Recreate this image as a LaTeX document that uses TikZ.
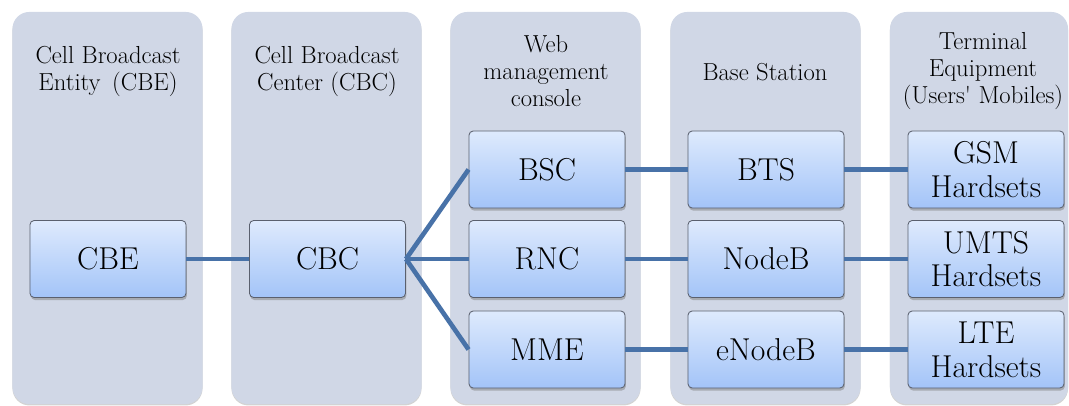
\documentclass[tikz,border=0pt]{standalone}
\usepackage{fontspec}
\usetikzlibrary{shadows}

\definecolor{panelfill}{RGB}{208,215,230}
\definecolor{boxtop}{RGB}{222,234,253}
\definecolor{boxbot}{RGB}{163,196,248}
\definecolor{boxline}{RGB}{90,96,110}
\definecolor{linkblue}{RGB}{72,114,168}

\tikzset{
  panel/.style={rectangle, rounded corners=12pt, fill=panelfill, minimum height=9.8cm,
    drop shadow={shadow xshift=0pt, shadow yshift=-1pt, opacity=0.35}},
  hdr/.style={align=center, font=\fontsize{17.5}{19}\selectfont},
  unit/.style={rectangle, rounded corners=3pt, draw=boxline, line width=0.6pt,
    top color=boxtop, bottom color=boxbot, minimum width=3.9cm, minimum height=1.925cm,
    inner sep=0pt, align=center, font=\fontsize{22.5}{24}\selectfont,
    drop shadow={shadow xshift=0.6pt, shadow yshift=-1.8pt, opacity=0.5}},
  link/.style={draw=linkblue, line width=3.3pt}
}

\begin{document}
\begin{tikzpicture}[x=0.025cm, y=-0.025cm]
\useasboundingbox (0,0) rectangle (1069,406);
% background panels
\node[panel, minimum width=4.75cm] (pan1) at (107.5,208) {};
\node[panel, minimum width=4.75cm] (pan2) at (326.5,208) {};
\node[panel, minimum width=4.75cm] (pan3) at (545.5,208) {};
\node[panel, minimum width=4.75cm] (pan4) at (765.5,208) {};
\node[panel, minimum width=4.45cm] (pan5) at (979,208) {};
% headings
\node[hdr] (hdr1) at (108,71.5) {Cell Broadcast\\Entity \,(CBE)};
\node[hdr] (hdr2) at (327,71.5) {Cell Broadcast\\Center (CBC)};
\node[hdr] (hdr3) at (546,71) {Web\\management\\console};
\node[hdr] (hdr4) at (765,72) {Base Station};
\node[hdr] (hdr5) at (983,71) {Terminal\\Equipment\\(Users\textquotesingle\ Mobiles)};
% units
\node[unit] (cbe) at (108,259) {CBE};
\node[unit] (cbc) at (327.5,259) {CBC};
\node[unit] (bsc) at (547,169.5) {BSC};
\node[unit] (rnc) at (547,259) {RNC};
\node[unit] (mme) at (547,349.5) {MME};
\node[unit] (bts) at (766,169.5) {BTS};
\node[unit] (nodeb) at (766,259) {NodeB};
\node[unit] (enodeb) at (766,349.5) {eNodeB};
\node[unit] (gsm) at (986,169.5) {GSM\\Hardsets};
\node[unit] (umts) at (986,259) {UMTS\\Hardsets};
\node[unit] (lte) at (986,349.5) {LTE\\Hardsets};
% links
\draw[link] (cbe) -- (cbc);
\draw[link] (cbc.east) -- (bsc.west);
\draw[link] (cbc.east) -- (rnc.west);
\draw[link] (cbc.east) -- (mme.west);
\draw[link] (bsc) -- (bts);
\draw[link] (rnc) -- (nodeb);
\draw[link] (mme) -- (enodeb);
\draw[link] (bts) -- (gsm);
\draw[link] (nodeb) -- (umts);
\draw[link] (enodeb) -- (lte);
\end{tikzpicture}
\end{document}
